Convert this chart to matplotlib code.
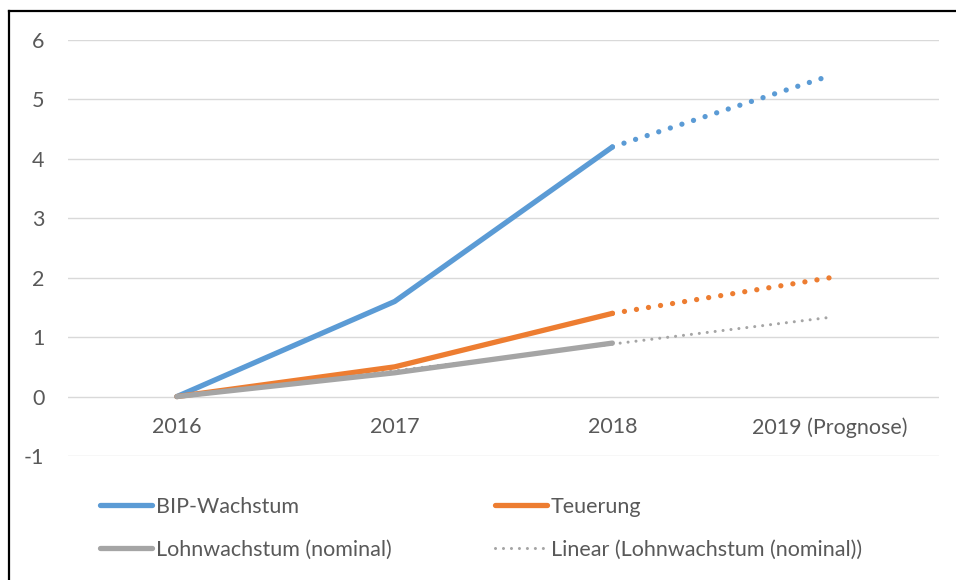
import numpy as np
import matplotlib.pyplot as plt
from matplotlib.lines import Line2D

# data
years = ['2016', '2017', '2018', '2019 (Prognose)']
bip = [0, 1.6, 4.2]
teuerung = [0, 0.5, 1.4]
lohn = [0, 0.4, 0.9]
bip_prognose = [4.2, 5.4]
teuerung_prognose = [1.4, 2.0]

blue = '#5B9BD5'
orange = '#ED7D31'
gray = '#A5A5A5'
txt = '#595959'

plt.rcParams['font.family'] = ['Lato', 'DejaVu Sans']
plt.rcParams['font.size'] = 15.5
plt.rcParams['axes.unicode_minus'] = False

fig = plt.figure(figsize=(9.56, 5.8), dpi=100)
ax = fig.add_axes([68 / 956, (580 - 456) / 580, (939 - 68) / 956, (456 - 40) / 580])

x = np.arange(len(years))

# linear trend of the wage series, drawn over all four categories
k, d = np.polyfit(x[:len(lohn)], lohn, 1)
trend = k * x + d

ax.plot(x, trend, color=gray, lw=2.2, linestyle=(0, (0.01, 2.6)),
        dash_capstyle='round', zorder=2,
        label='Linear (Lohnwachstum (nominal))')
ax.plot(x[2:], bip_prognose, color=blue, lw=3.8, linestyle=(0, (0.01, 2.3)),
        dash_capstyle='round', zorder=2)
ax.plot(x[2:], teuerung_prognose, color=orange, lw=3.8, linestyle=(0, (0.01, 2.3)),
        dash_capstyle='round', zorder=2)

ax.plot(x[:3], bip, color=blue, lw=3.8, solid_capstyle='round', label='BIP-Wachstum', zorder=3)
ax.plot(x[:3], teuerung, color=orange, lw=3.8, solid_capstyle='round', label='Teuerung', zorder=3)
ax.plot(x[:3], lohn, color=gray, lw=3.8, solid_capstyle='round', label='Lohnwachstum (nominal)', zorder=4)

ax.set_xlim(-0.5, 3.5)
ax.set_ylim(-1, 6)
ax.set_yticks(range(-1, 7))
ax.set_xticks(x)
ax.set_xticklabels(years)

ax.grid(axis='y', color='#D9D9D9', lw=1.0)
ax.set_axisbelow(True)
for s in ax.spines.values():
    s.set_visible(False)
ax.spines['bottom'].set_position(('data', 0))
ax.tick_params(axis='both', length=0, colors=txt)
ax.tick_params(axis='y', pad=17)
ax.tick_params(axis='x', pad=15)

# legend is filled column by column: BIP, Lohn | Teuerung, Linear
handles, labels = ax.get_legend_handles_labels()
order = [1, 3, 2, 0]
leg = fig.legend([handles[i] for i in order], [labels[i] for i in order],
                 loc='upper left', bbox_to_anchor=(100 / 956, (580 - 497) / 580),
                 ncol=2, frameon=False, handlelength=2.4, handletextpad=0.2,
                 columnspacing=4.8, labelspacing=1.05, borderpad=0, borderaxespad=0)
for t in leg.get_texts():
    t.set_color(txt)

# chart frame (cropped at right and bottom)
fig.add_artist(Line2D([9 / 956, 9 / 956], [0, (580 - 11) / 580], color='black', lw=1.6,
                      transform=fig.transFigure))
fig.add_artist(Line2D([9 / 956, 1], [(580 - 11) / 580, (580 - 11) / 580], color='black', lw=1.6,
                      transform=fig.transFigure))

fig.savefig('out.png', dpi=100)
